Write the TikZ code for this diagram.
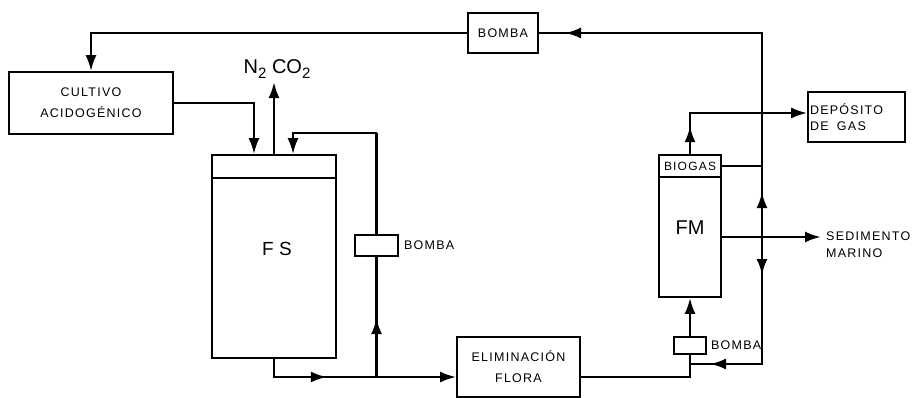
\documentclass[tikz,border=0pt]{standalone}
\usepackage{fontspec}
\setmainfont{Liberation Sans}
\newfontfamily\etiq{Liberation Sans}[LetterSpace=10]
\usetikzlibrary{arrows.meta, positioning, decorations.markings}

\newcommand{\indice}[1]{\raisebox{-5pt}{\fontsize{15}{15}\selectfont #1}}

\tikzset{
  >={Latex[length=16pt,width=11pt]},
  caja/.style={draw, line width=1.7pt, inner sep=0pt, align=center, font=\etiq\fontsize{12.5}{21}\selectfont},
  rotulo/.style={inner sep=0pt, font=\etiq\fontsize{12.5}{21}\selectfont},
  tubo/.style={line width=2.5pt},
  flecha/.style={tubo, ->},
  flechamedia/.style={postaction={decorate}, decoration={markings, mark=at position #1 with {\arrow{>}}}},
  flechados/.style 2 args={postaction={decorate}, decoration={markings, mark=at position #1 with {\arrow{>}}, mark=at position #2 with {\arrow{>}}}},
}

\begin{document}
\begin{tikzpicture}[x=1pt,y=-1pt]
        \useasboundingbox (0,0) rectangle (915,398);

        \node[caja,minimum width=70pt,minimum height=40pt] (bomba1) at (503,33) {BOMBA};
        \node[caja,minimum width=164pt,minimum height=62pt] (cultivo) at (91,103) {CULTIVO\\ACIDOGÉNICO};
        \node[caja,minimum width=124pt,minimum height=203pt] (fs) at (274,256.5) {};
        \draw[line width=1.7pt] ([yshift=-24pt]fs.north west) -- ([yshift=-24pt]fs.north east);
        \node[font=\fontsize{19}{19}\selectfont] (fstexto) at (277,249) {F S};
        \node[font=\fontsize{20}{20}\selectfont] (gases) at (277,69) {N\indice{2} CO\indice{2}};

        \node[caja,minimum width=43pt,minimum height=21pt] (bomba2) at (376.5,245.5) {};
        \node[rotulo] (bomba2texto) [right = 5pt of bomba2] {BOMBA};
        \node[caja,minimum width=123pt,minimum height=60pt] (elim) at (518.5,367) {ELIMINACIÓN\\FLORA};

        \node[caja,minimum width=62pt,minimum height=142pt] (fm) at (690,226) {};
        \node[caja,minimum width=62pt,minimum height=22pt,anchor=north,font=\etiq\fontsize{12}{12}\selectfont] (biogas) at (fm.north) {BIOGAS};
        \node[font=\fontsize{20}{20}\selectfont] (fmtexto) at (690,228) {FM};
        \node[caja,minimum width=32pt,minimum height=17pt] (bomba3) at (690,345.5) {};
        \node[rotulo] (bomba3texto) [right = 4pt of bomba3] {BOMBA};

        \node[caja,text width=93pt,inner xsep=2pt,minimum height=50pt,align=left,font=\etiq\fontsize{12.5}{16}\selectfont] (deposito) at (856.5,117) {DEPÓSITO\\DE\ \ GAS};
        \node[rotulo,anchor=west,align=left,font=\etiq\fontsize{12.5}{17}\selectfont] (sedimento) at (826,245) {SEDIMENTO\\MARINO};

        \coordinate (jtop) at (762,33);
        \coordinate (jsed) at (762,237);
        \coordinate (jbot) at (762,364);
        \coordinate (jin) at (690,364);
        \coordinate (jfs) at (376.5,377);
        \coordinate (jrec) at (376.5,133);
        \coordinate (sal) at (821,237);

        \draw[tubo, flechados={45pt}{401pt}] (jsed) -- (jtop) -- (bomba1.east);
        \draw[flecha] (bomba1.west) -| (cultivo.north);
        \draw[flecha] (cultivo.east) -| ([xshift=-20pt]fs.north);
        \draw[flecha] (fs.north) -- (fs.north |- gases.south);
        \draw[tubo] (bomba2.north) -- (jrec);
        \draw[flecha] (jrec) -| ([xshift=19pt]fs.north);
        \draw[tubo, flechamedia=59pt] (jfs) -- (bomba2.south);
        \draw[flecha, flechamedia=71pt] (fs.south) |- ([yshift=-10pt]elim.west);
        \draw[tubo] ([yshift=-10pt]elim.east) -| (bomba3.south);
        \draw[flecha] (bomba3.north) -- (fm.south);
        \draw[tubo, flechados={38pt}{179pt}] (jsed) -- (jbot) -- (jin);
        \draw[tubo] (biogas.east) -- (biogas.east -| jtop);
        \draw[flecha, flechamedia=28pt] (biogas.north) |- ([yshift=4pt]deposito.west);
        \draw[flecha] ([yshift=-11pt]fm.east) -- (sal);
\end{tikzpicture}
\end{document}
